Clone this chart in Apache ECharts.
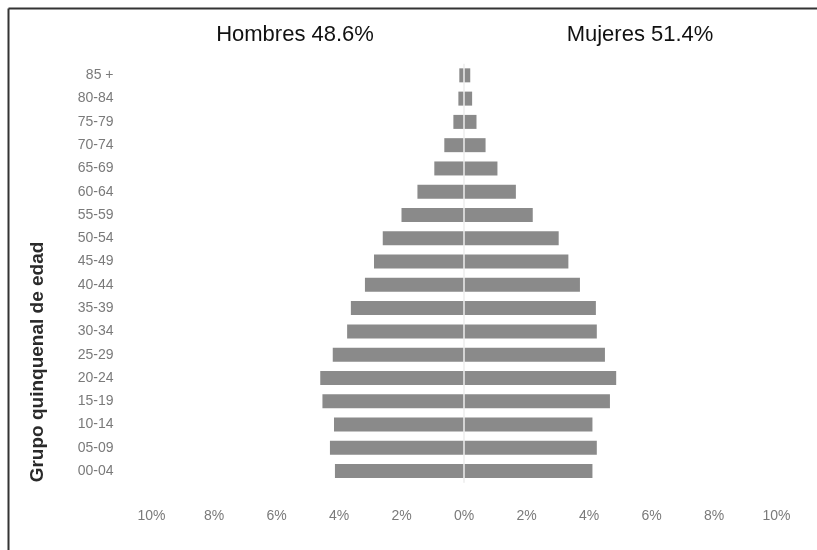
<!DOCTYPE html>
<html><head><meta charset="utf-8">
<script src="https://cdn.jsdelivr.net/npm/echarts@6/dist/echarts.min.js"></script>
<style>html,body{margin:0;padding:0;background:#fff}#c{width:817px;height:550px}</style>
</head><body><div id="c"></div>
<script>
const ageGroups = ['00-04','05-09','10-14','15-19','20-24','25-29','30-34','35-39','40-44','45-49','50-54','55-59','60-64','65-69','70-74','75-79','80-84','85 +'];
const hombres = [4.13,4.29,4.16,4.53,4.6,4.2,3.74,3.62,3.17,2.88,2.6,2.0,1.49,0.95,0.63,0.34,0.18,0.15];
const mujeres = [4.11,4.25,4.11,4.67,4.87,4.51,4.25,4.22,3.71,3.34,3.03,2.2,1.66,1.07,0.69,0.4,0.26,0.2];
const titleHombres = 'Hombres 48.6%';
const titleMujeres = 'Mujeres 51.4%';
const yAxisTitle = 'Grupo quinquenal de edad';

const chart = echarts.init(document.getElementById('c'), null, {renderer:'canvas'});
const labelFont = {color:'#7a7a7a', fontFamily:'Liberation Sans, Arial', fontSize:14};
const titleFont = {fontFamily:'Liberation Sans, Arial', fontSize:22, fontWeight:'normal', color:'#111'};
chart.setOption({
  backgroundColor:'#fff',
  animation:false,
  title:[
    {text:titleHombres, left:290, top:19, textAlign:'center', textStyle:titleFont},
    {text:titleMujeres, left:635, top:19, textAlign:'center', textStyle:titleFont}
  ],
  grid:{left:151.5, width:625, top:63.7, height:419},
  xAxis:{type:'value', min:-10, max:10, interval:2,
    axisLine:{show:false}, axisTick:{show:false}, splitLine:{show:false},
    axisLabel:Object.assign({margin:26, formatter:v=>Math.abs(v)+'%', showMinLabel:true, showMaxLabel:true}, labelFont)},
  yAxis:{type:'category', data:ageGroups,
    axisLine:{show:false}, axisTick:{show:false},
    axisLabel:Object.assign({margin:38}, labelFont)},
  series:[
    {name:'Hombres', type:'bar', stack:'s', barWidth:14, data:hombres.map(v=>-v), itemStyle:{color:'#8a8a8a'},
     markLine:{silent:true, symbol:'none', label:{show:false}, lineStyle:{color:'#ececec', width:1.5, type:'solid'}, data:[{xAxis:0}]}},
    {name:'Mujeres', type:'bar', stack:'s', barWidth:14, data:mujeres, itemStyle:{color:'#8a8a8a'}}
  ],
  graphic:[
    {type:'line', shape:{x1:8.5, y1:8.5, x2:817, y2:8.5}, style:{stroke:'#333', lineWidth:2}},
    {type:'line', shape:{x1:8.5, y1:8.5, x2:8.5, y2:550}, style:{stroke:'#333', lineWidth:2}},
    {type:'text', x:38, y:362, rotation:Math.PI/2,
     style:{text:yAxisTitle, fill:'#2a2a2a', font:'bold 19px "Liberation Sans", Arial', textAlign:'center', textVerticalAlign:'middle'}}
  ]
});
</script></body></html>
